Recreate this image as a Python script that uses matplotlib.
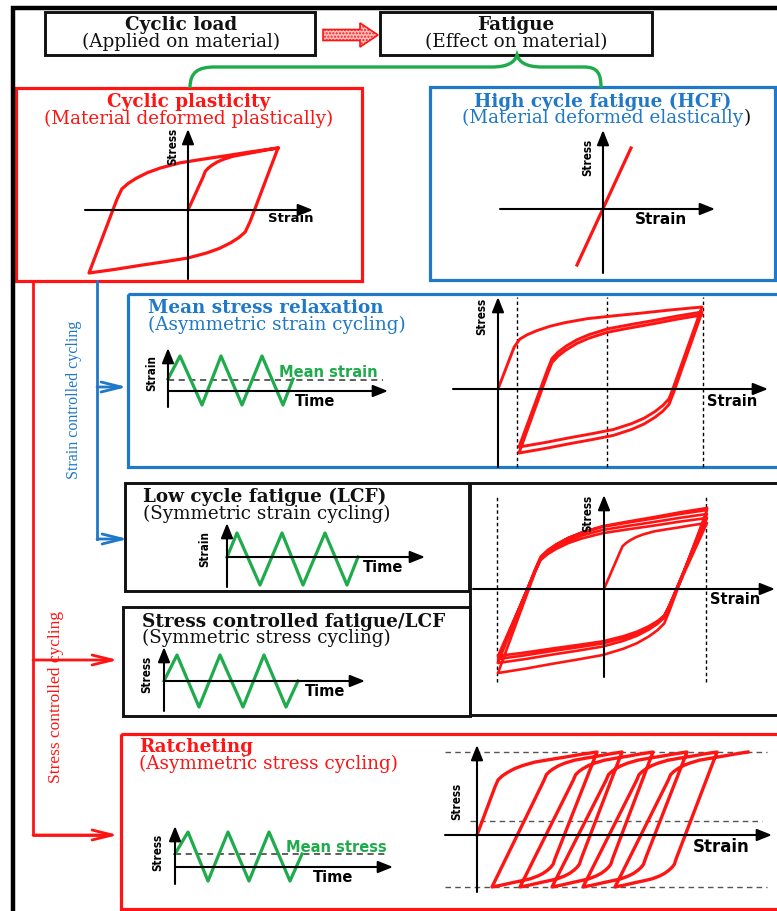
import matplotlib
matplotlib.use("Agg")
import matplotlib.pyplot as plt
import numpy as np
from matplotlib import font_manager
from matplotlib.font_manager import FontProperties
from matplotlib.patches import Rectangle, FancyArrow, PathPatch
from matplotlib.path import Path

W, H = 777, 911

RED = "#ff1414"
BLUE = "#1f78c8"
GREEN = "#1eab4b"
BLACK = "#111111"

SERIF = "DejaVu Serif"
SANS = "DejaVu Sans"


def narrow_bold():
    # a condensed bold sans for the small rotated axis names, if one is installed
    for f in font_manager.fontManager.ttflist:
        if (f.stretch in ("condensed", "semi-condensed", "extra-condensed")
                and f.weight in (600, 700, "bold", "semibold")
                and ("Sans" in f.name or "Roboto" in f.name)
                and f.style == "normal"):
            return FontProperties(fname=f.fname), 8.4
    return FontProperties(family=SANS, weight="bold"), 7.6


NARROW, NARROW_SIZE = narrow_bold()

# ---------------- data (1 unit = 100 px, measured from each little origin) ----------------
# shape of a hardening branch after the knee (fraction of the way to the reversal point)
hard_u = [0, 0.03, 0.07, 0.12, 0.19, 0.27, 0.39, 0.53, 0.68, 0.84, 1.0]
hard_v = [0, 0.20, 0.31, 0.41, 0.52, 0.61, 0.71, 0.78, 0.85, 0.93, 1.0]

# cyclic plasticity: one loop
cp_strain = [0.0, 0.90, -0.99, 0.90]
cp_stress = [0.0, 0.62, -0.63, 0.62]

# high cycle fatigue: elastic line
hcf_strain = [-0.26, 0.28]
hcf_stress = [-0.56, 0.61]

# mean stress relaxation: fixed strain limits, peak stress relaxes
msr_limits = [0.19, 1.09, 2.05]
msr_strain = [0.0, 2.04, 0.21, 2.04, 0.21, 2.04]
msr_stress = [0.0, 0.82, -0.58, 0.77, -0.64, 0.74]

# low cycle fatigue: symmetric strain, loops grow
lcf_limits = [-1.07, 1.02]
lcf_strain = [0.0, 1.03, -1.06, 1.03, -1.06, 1.03, -1.06, 1.03, -1.06, 1.03]
lcf_stress = [0.0, 0.66, -0.67, 0.71, -0.70, 0.75, -0.74, 0.79, -0.84, 0.81]

# ratcheting: fixed stress limits, strain walks to the right
rat_limits = [-0.52, 0.14, 0.83]
rat_strain = [0.0, 1.20, 0.15, 1.45, 0.43, 1.76, 0.75, 2.10, 1.06, 2.40, 1.38, 2.71]
rat_stress = [0.0, 0.83, -0.52, 0.83, -0.52, 0.83, -0.52, 0.83, -0.52, 0.83, -0.52, 0.83]

# loading histories (time, value)
msr_t = [0, 0.12, 0.34, 0.53, 0.74, 0.94, 1.15, 1.25]
msr_e = [0.12, 0.35, -0.14, 0.35, -0.14, 0.35, -0.14, 0.12]
msr_mean = 0.11
lcf_t = [0, 0.10, 0.33, 0.55, 0.76, 0.98, 1.20, 1.31]
lcf_e = [0, 0.24, -0.28, 0.24, -0.28, 0.24, -0.28, 0]
sc_t = [0, 0.13, 0.35, 0.56, 0.79, 1.00, 1.22, 1.34]
sc_s = [0, 0.26, -0.26, 0.26, -0.26, 0.26, -0.26, 0]
rat_t = [0, 0.13, 0.33, 0.53, 0.74, 0.94, 1.15, 1.27]
rat_s = [0.13, 0.35, -0.14, 0.35, -0.14, 0.35, -0.14, 0.13]
rat_mean = 0.13

fig = plt.figure(figsize=(W / 100, H / 100), dpi=100)
ax0 = fig.add_axes([0, 0, 1, 1])
ax0.set_xlim(0, W)
ax0.set_ylim(H, 0)
ax0.axis("off")


def box(x0, y0, x1, y1, color, lw=2.1):
    ax0.add_patch(Rectangle((x0, y0), x1 - x0, y1 - y0, fill=False, ec=color, lw=lw))


def label(x, y, s, color=BLACK, bold=False, ha="center", size=13.2):
    return ax0.text(x, y, s, color=color, family=SERIF, fontsize=size,
                    fontweight="bold" if bold else "normal", ha=ha, va="center")


def panel(ox, oy, xr, yr):
    left = (ox + xr[0] * 100) / W
    bottom = 1 - (oy - yr[0] * 100) / H
    ax = fig.add_axes([left, bottom, (xr[1] - xr[0]) * 100 / W, (yr[1] - yr[0]) * 100 / H])
    ax.set_xlim(*xr)
    ax.set_ylim(*yr)
    ax.axis("off")
    ax.patch.set_alpha(0)
    kw = dict(arrowstyle="-|>,head_length=0.6,head_width=0.24", color="k", lw=1.5,
              mutation_scale=15, shrinkA=0, shrinkB=0)
    ax.annotate("", xy=(xr[1], 0), xytext=(xr[0], 0), arrowprops=kw, annotation_clip=False)
    ax.annotate("", xy=(0, yr[1]), xytext=(0, yr[0]), arrowprops=kw, annotation_clip=False)
    return ax


def axis_names(ax, ylab, ypos, xlab, xpos, xsize=10.5):
    ax.text(*ypos, ylab, rotation=90, fontproperties=NARROW,
            fontsize=NARROW_SIZE, ha="center", va="center")
    ax.text(*xpos, xlab, family=SANS, fontweight="bold", fontsize=xsize, ha="left", va="center")


def loop_path(strain, stress, first_knee, rev_knee):
    xs, ys = [strain[0]], [stress[0]]
    for i in range(len(strain) - 1):
        ku, kv = first_knee if i == 0 else rev_knee
        xa, ya, xb, yb = strain[i], stress[i], strain[i + 1], stress[i + 1]
        kx, ky = xa + ku * (xb - xa), ya + kv * (yb - ya)
        xs += list(kx + np.array(hard_u) * (xb - kx))
        ys += list(ky + np.array(hard_v) * (yb - ky))
    return xs, ys


def draw_loops(ax, strain, stress, first_knee, rev_knee, lw=2.3):
    xs, ys = loop_path(strain, stress, first_knee, rev_knee)
    ax.plot(xs, ys, color=RED, lw=lw, solid_joinstyle="round", clip_on=False)


# ---------------- frame and boxes ----------------
ax0.plot([13, 13, 780], [915, 8, 8], color="k", lw=3.2, solid_joinstyle="miter")
box(45, 12, 315, 55, BLACK)
box(380, 12, 652, 55, BLACK)
box(16, 88, 362, 281, RED, 2.3)
box(430, 87, 775, 280, BLUE, 2.3)
box(128, 294, 790, 467, BLUE, 2.3)
box(125, 483, 469, 591, BLACK)
box(123, 607, 470, 716, BLACK)
box(470, 483, 790, 715, BLACK)
box(121, 734, 790, 909, RED, 2.3)

# hatched arrow between the top boxes
ax0.add_patch(FancyArrow(323, 35, 37, 0, width=11, head_width=24, head_length=18,
                         length_includes_head=False, fc="#ffc0c0", ec=RED, lw=1.2,
                         hatch="....."))

# green brace under "Fatigue"
brace = Path([(190, 88), (190, 72), (198, 67), (215, 67), (492, 67),
              (508, 67), (515, 62), (517, 55),
              (519, 62), (526, 67), (542, 67), (584, 67),
              (598, 67), (601, 74), (601, 88)],
             [Path.MOVETO, Path.CURVE4, Path.CURVE4, Path.CURVE4, Path.LINETO,
              Path.CURVE4, Path.CURVE4, Path.CURVE4,
              Path.CURVE4, Path.CURVE4, Path.CURVE4, Path.LINETO,
              Path.CURVE4, Path.CURVE4, Path.CURVE4])
ax0.add_patch(PathPatch(brace, fill=False, ec=GREEN, lw=2.4))

# control-type connectors on the left
ax0.plot([33, 33, 100], [281, 835, 835], color=RED, lw=2.0)
ax0.plot([97, 97], [281, 539], color=BLUE, lw=2.0)
open_kw = dict(arrowstyle="->,head_length=1.45,head_width=0.36", lw=2.0,
               mutation_scale=10, shrinkA=0, shrinkB=0)
for y, x1 in [(660, 118), (835, 118)]:
    ax0.annotate("", xy=(x1, y), xytext=(33, y), arrowprops=dict(color=RED, **open_kw))
for y, x1 in [(387, 127), (539, 128)]:
    ax0.annotate("", xy=(x1, y), xytext=(97, y), arrowprops=dict(color=BLUE, **open_kw))

ax0.text(74, 400, "Strain controlled cycling", rotation=90, color=BLUE,
         family="Liberation Serif", fontsize=11.5, ha="center", va="center")
ax0.text(56, 697, "Stress controlled cycling", rotation=90, color=RED,
         family="Liberation Serif", fontsize=12.5, ha="center", va="center")

# ---------------- box titles ----------------
label(181, 25, "Cyclic load", bold=True)
label(181, 42, "(Applied on material)")
label(516, 25, "Fatigue", bold=True)
label(516, 42, "(Effect on material)")
label(189, 102, "Cyclic plasticity", RED, True)
label(189, 119, "(Material deformed plastically)", RED)
label(603, 102, "High cycle fatigue (HCF)", BLUE, True)
sub = label(603, 118, "(Material deformed elastically", BLUE)
fig.canvas.draw()
bb = sub.get_window_extent(fig.canvas.get_renderer())
x_end = ax0.transData.inverted().transform((bb.x1, bb.y0))[0]
ax0.text(x_end, 118, ")", color=BLACK, family=SERIF, fontsize=13.2, ha="left", va="center")
label(148, 308, "Mean stress relaxation", BLUE, True, "left")
label(148, 325, "(Asymmetric strain cycling)", BLUE, ha="left")
label(143, 497, "Low cycle fatigue (LCF)", bold=True, ha="left")
label(143, 514, "(Symmetric strain cycling)", ha="left")
label(142, 622, "Stress controlled fatigue/LCF", bold=True, ha="left")
label(142, 638, "(Symmetric stress cycling)", ha="left")
label(139, 747, "Ratcheting", RED, True, "left")
label(139, 764, "(Asymmetric stress cycling)", RED, ha="left")

# ---------------- stress-strain sketches ----------------
ax = panel(188, 210, (-1.03, 1.25), (-0.69, 0.81))
draw_loops(ax, cp_strain, cp_stress, (0.167, 0.53), (0.148, 0.59))
axis_names(ax, "Stress", (-0.15, 0.64), "Strain", (0.80, -0.09), 9.5)

ax = panel(603, 209, (-1.03, 1.12), (-0.64, 0.79))
ax.plot(hcf_strain, hcf_stress, color=RED, lw=2.3)
axis_names(ax, "Stress", (-0.15, 0.52), "Strain", (0.32, -0.10), 11)

ax = panel(498, 389, (-0.45, 2.70), (-0.78, 0.92))
for e in msr_limits:
    ax.plot([e, e], [-0.78, 0.92], color="k", lw=1.0, ls=(0, (2.5, 2)), clip_on=False)
draw_loops(ax, msr_strain, msr_stress, (0.079, 0.51), (0.155, 0.57), 2.1)
axis_names(ax, "Stress", (-0.16, 0.73), "Strain", (2.09, -0.12), 10.5)

ax = panel(604, 589, (-1.31, 1.71), (-0.88, 0.94))
for e in lcf_limits:
    ax.plot([e, e], [-0.93, 0.94], color="k", lw=1.0, ls=(0, (2.5, 2)), clip_on=False)
draw_loops(ax, lcf_strain, lcf_stress, (0.155, 0.56), (0.18, 0.62), 1.9)
axis_names(ax, "Stress", (-0.16, 0.76), "Strain", (1.06, -0.10), 10.5)

ax = panel(477, 835, (-0.32, 2.95), (-0.57, 0.90))
for s, x0, x1 in zip(rat_limits, [-0.32, -0.07, -0.32], [2.90, 2.85, 2.90]):
    ax.plot([x0, x1], [s, s], color="#555555", lw=1.0, ls=(0, (4, 3)), clip_on=False)
draw_loops(ax, rat_strain, rat_stress, (0.15, 0.58), (0.40, 0.79), 2.4)
axis_names(ax, "Stress", (-0.20, 0.34), "Strain", (2.16, -0.12), 12)

# ---------------- loading histories ----------------
ax = panel(168, 391, (0, 2.20), (-0.16, 0.43))
ax.plot([0, 2.15], [msr_mean, msr_mean], color="#333333", lw=1.1, ls=(0, (4, 3)))
ax.plot(msr_t, msr_e, color=GREEN, lw=2.3, clip_on=False)
ax.text(1.11, 0.19, "Mean strain", color=GREEN, family=SANS, fontweight="bold",
        fontsize=10.5, va="center")
axis_names(ax, "Strain", (-0.16, 0.18), "Time", (1.27, -0.10))

ax = panel(227, 557, (0, 1.98), (-0.30, 0.34))
ax.plot(lcf_t, lcf_e, color=GREEN, lw=2.3, clip_on=False)
axis_names(ax, "Strain", (-0.22, 0.08), "Time", (1.36, -0.11))

ax = panel(164, 681, (0, 2.01), (-0.30, 0.34))
ax.plot(sc_t, sc_s, color=GREEN, lw=2.3, clip_on=False)
axis_names(ax, "Stress", (-0.17, 0.07), "Time", (1.41, -0.11))

ax = panel(175, 867, (0, 2.18), (-0.17, 0.41))
ax.plot([0, 2.13], [rat_mean, rat_mean], color="#333333", lw=1.1, ls=(0, (4, 3)))
ax.plot(rat_t, rat_s, color=GREEN, lw=2.3, clip_on=False)
ax.text(1.11, 0.20, "Mean stress", color=GREEN, family=SANS, fontweight="bold",
        fontsize=10.5, va="center")
axis_names(ax, "Stress", (-0.17, 0.15), "Time", (1.38, -0.10))

fig.savefig("out.png", dpi=100)
